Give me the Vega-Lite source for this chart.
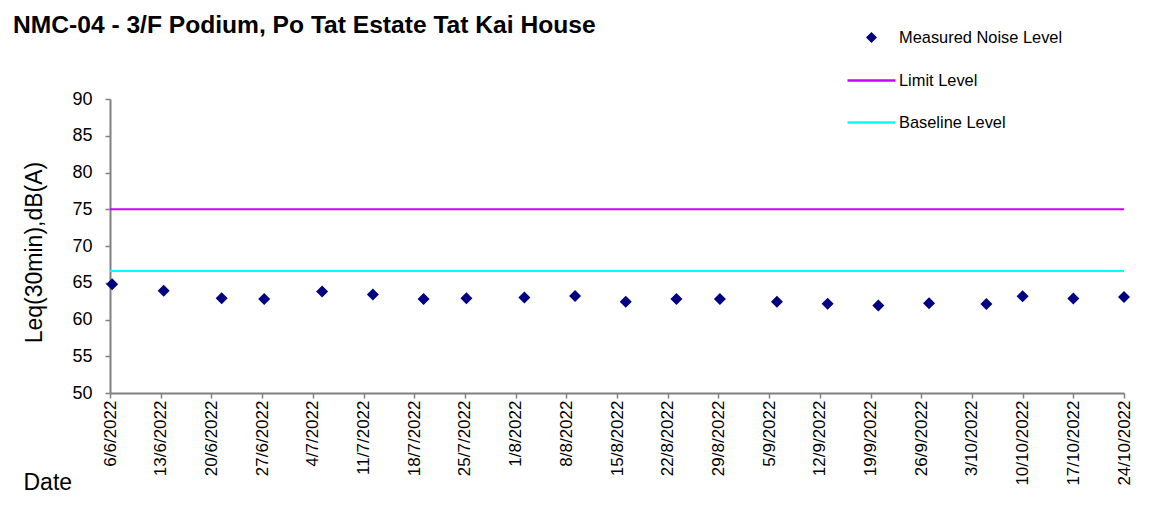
{
  "$schema": "https://vega.github.io/schema/vega-lite/v6.json",
  "width": 1014,
  "height": 294,
  "autosize": {"type": "none"},
  "padding": {"left": 110, "top": 99, "right": 27, "bottom": 117},
  "background": "white",
  "title": {
    "text": "NMC-04 - 3/F Podium, Po Tat Estate Tat Kai House",
    "anchor": "start",
    "frame": "group",
    "font": "Liberation Sans",
    "fontSize": 24.6,
    "fontWeight": "bold",
    "color": "black",
    "dx": -97,
    "dy": 31
  },
  "config": {
    "view": {"stroke": null},
    "axis": {
      "grid": false,
      "domainColor": "#808080",
      "domainWidth": 2,
      "tickColor": "#808080",
      "tickWidth": 1.5,
      "tickSize": 5,
      "labelFont": "Liberation Sans",
      "labelColor": "black",
      "labelOverlap": false,
      "titleFont": "Liberation Sans",
      "titleColor": "black",
      "titleFontWeight": "normal"
    }
  },
  "datasets": {
    "noise": [
      {"date": "2022-06-06T07:00:00Z", "db": 64.8, "series": "Measured Noise Level"},
      {"date": "2022-06-13T10:00:00Z", "db": 63.9, "series": "Measured Noise Level"},
      {"date": "2022-06-21T10:00:00Z", "db": 62.9, "series": "Measured Noise Level"},
      {"date": "2022-06-27T07:00:00Z", "db": 62.8, "series": "Measured Noise Level"},
      {"date": "2022-07-05T07:00:00Z", "db": 63.8, "series": "Measured Noise Level"},
      {"date": "2022-07-12T07:00:00Z", "db": 63.4, "series": "Measured Noise Level"},
      {"date": "2022-07-19T07:00:00Z", "db": 62.8, "series": "Measured Noise Level"},
      {"date": "2022-07-25T05:00:00Z", "db": 62.9, "series": "Measured Noise Level"},
      {"date": "2022-08-02T05:00:00Z", "db": 63.0, "series": "Measured Noise Level"},
      {"date": "2022-08-09T05:00:00Z", "db": 63.2, "series": "Measured Noise Level"},
      {"date": "2022-08-16T05:00:00Z", "db": 62.4, "series": "Measured Noise Level"},
      {"date": "2022-08-23T05:00:00Z", "db": 62.8, "series": "Measured Noise Level"},
      {"date": "2022-08-29T05:00:00Z", "db": 62.8, "series": "Measured Noise Level"},
      {"date": "2022-09-06T02:00:00Z", "db": 62.4, "series": "Measured Noise Level"},
      {"date": "2022-09-13T02:00:00Z", "db": 62.15, "series": "Measured Noise Level"},
      {"date": "2022-09-20T02:00:00Z", "db": 61.9, "series": "Measured Noise Level"},
      {"date": "2022-09-27T02:00:00Z", "db": 62.2, "series": "Measured Noise Level"},
      {"date": "2022-10-05T00:00:00Z", "db": 62.1, "series": "Measured Noise Level"},
      {"date": "2022-10-10T00:00:00Z", "db": 63.15, "series": "Measured Noise Level"},
      {"date": "2022-10-17T00:00:00Z", "db": 62.85, "series": "Measured Noise Level"},
      {"date": "2022-10-24T00:00:00Z", "db": 63.05, "series": "Measured Noise Level"}
    ],
    "levels": [
      {"date": "2022-06-06T00:00:00Z", "db": 75, "series": "Limit Level"},
      {"date": "2022-10-24T00:00:00Z", "db": 75, "series": "Limit Level"},
      {"date": "2022-06-06T00:00:00Z", "db": 66.6, "series": "Baseline Level"},
      {"date": "2022-10-24T00:00:00Z", "db": 66.6, "series": "Baseline Level"}
    ]
  },
  "encoding": {
    "x": {
      "field": "date",
      "type": "temporal",
      "scale": {"type": "utc", "domain": [{"year": 2022, "month": 6, "date": 6, "utc": true}, {"year": 2022, "month": 10, "date": 24, "utc": true}], "nice": false},
      "axis": {
        "values": [
          {"year": 2022, "month": 6, "date": 6, "utc": true},
          {"year": 2022, "month": 6, "date": 13, "utc": true},
          {"year": 2022, "month": 6, "date": 20, "utc": true},
          {"year": 2022, "month": 6, "date": 27, "utc": true},
          {"year": 2022, "month": 7, "date": 4, "utc": true},
          {"year": 2022, "month": 7, "date": 11, "utc": true},
          {"year": 2022, "month": 7, "date": 18, "utc": true},
          {"year": 2022, "month": 7, "date": 25, "utc": true},
          {"year": 2022, "month": 8, "date": 1, "utc": true},
          {"year": 2022, "month": 8, "date": 8, "utc": true},
          {"year": 2022, "month": 8, "date": 15, "utc": true},
          {"year": 2022, "month": 8, "date": 22, "utc": true},
          {"year": 2022, "month": 8, "date": 29, "utc": true},
          {"year": 2022, "month": 9, "date": 5, "utc": true},
          {"year": 2022, "month": 9, "date": 12, "utc": true},
          {"year": 2022, "month": 9, "date": 19, "utc": true},
          {"year": 2022, "month": 9, "date": 26, "utc": true},
          {"year": 2022, "month": 10, "date": 3, "utc": true},
          {"year": 2022, "month": 10, "date": 10, "utc": true},
          {"year": 2022, "month": 10, "date": 17, "utc": true},
          {"year": 2022, "month": 10, "date": 24, "utc": true}
        ],
        "format": "%-d/%-m/%Y",
        "labelAngle": 270,
        "labelAlign": "right",
        "labelBaseline": "middle",
        "labelFontSize": 17,
        "labelPadding": 2,
        "labelFlush": false,
        "title": "Date",
        "titleFontSize": 23,
        "titleAngle": 0,
        "titleAlign": "left",
        "titleBaseline": "alphabetic",
        "titleX": -87,
        "titleY": 96,
        "encode": {"ticks": {"update": {"y2": {"value": -5}}}}
      }
    },
    "y": {
      "field": "db",
      "type": "quantitative",
      "scale": {"domain": [50, 90], "nice": false, "zero": false},
      "axis": {
        "values": [50, 55, 60, 65, 70, 75, 80, 85, 90],
        "tickCount": 9,
        "labelFontSize": 18,
        "labelPadding": 13,
        "title": "Leq(30min),dB(A)",
        "titleFontSize": 23,
        "titlePadding": 25,
        "titleY": 153,
        "encode": {"ticks": {"update": {"x2": {"value": 5}}}}
      }
    }
  },
  "layer": [
    {
      "data": {"name": "levels"},
      "mark": {"type": "line", "strokeWidth": 2},
      "encoding": {
        "color": {
          "field": "series",
          "type": "nominal",
          "scale": {"domain": ["Measured Noise Level", "Limit Level", "Baseline Level"], "range": ["#000080", "#CC00FF", "#00FFFF"]},
          "legend": {
            "orient": "none",
            "legendX": 736,
            "legendY": -87,
            "title": null,
            "labelFont": "Liberation Sans",
            "labelFontSize": 16.4,
            "labelColor": "black",
            "labelLimit": 400,
            "labelOffset": 2,
            "symbolSize": 2304,
            "symbolStrokeWidth": 2,
            "rowPadding": 8,
            "encode": {
              "symbols": {
                "update": {
                  "shape": {"signal": "datum.value === 'Measured Noise Level' ? 'diamond' : 'stroke'"},
                  "size": {"signal": "datum.value === 'Measured Noise Level' ? 55 : 2304"},
                  "fill": {"signal": "datum.value === 'Measured Noise Level' ? '#000080' : 'transparent'"},
                  "stroke": {"signal": "datum.value === 'Measured Noise Level' ? 'transparent' : (datum.value === 'Limit Level' ? '#CC00FF' : '#00FFFF')"},
                  "strokeWidth": {"value": 2.5},
                  "opacity": {"value": 1}
                }
              }
            }
          }
        }
      }
    },
    {
      "data": {"name": "noise"},
      "mark": {"type": "point", "shape": "diamond", "filled": true, "size": 144, "opacity": 1},
      "encoding": {
        "color": {"field": "series", "type": "nominal"}
      }
    }
  ]
}
